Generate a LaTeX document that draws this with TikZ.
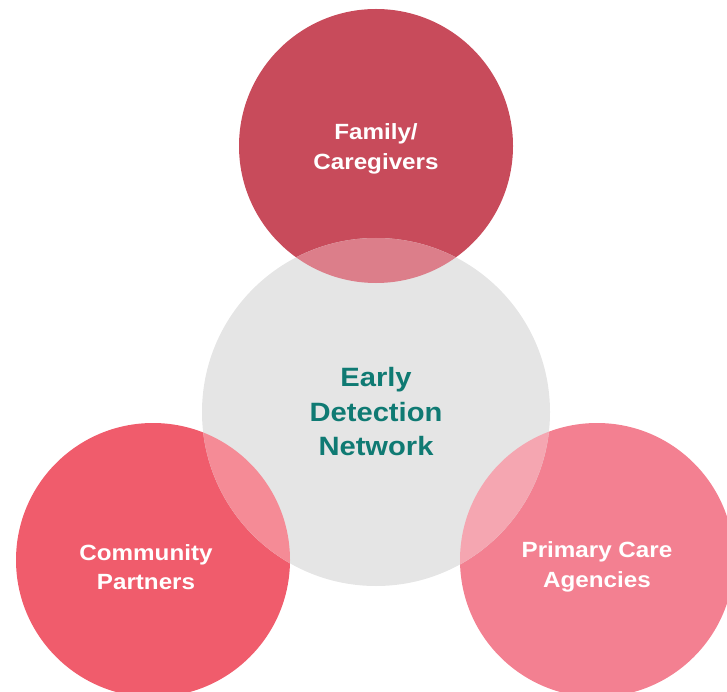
\documentclass[tikz,border=0pt]{standalone}
\usepackage{fontspec}
\setmainfont{Liberation Sans}[FakeStretch=1.1]
\definecolor{famc}{HTML}{C84B5B}
\definecolor{comc}{HTML}{F05C6C}
\definecolor{pric}{HTML}{F38091}
\definecolor{grayc}{HTML}{E5E5E5}
\definecolor{tealc}{HTML}{0F7A73}
\definecolor{famov}{HTML}{DC7E8A}
\definecolor{comov}{HTML}{F58B96}
\definecolor{priov}{HTML}{F5A6B1}
\tikzset{
  whitelabel/.style={text=white, font=\bfseries\fontsize{22}{29.5}\selectfont, align=center},
  teallabel/.style={text=tealc, font=\bfseries\fontsize{26.5}{34.5}\selectfont, align=center}
}
\begin{document}
\begin{tikzpicture}[x=1pt,y=-1pt]
\useasboundingbox (0,0) rectangle (727,692);
\begin{scope}
\clip (0,0) rectangle (727,692);
\fill[famc] (376,146) circle (137);
\fill[comc] (153,560) circle (137);
\fill[pric] (597,560) circle (137);
\fill[grayc] (376,412) circle (174);
\begin{scope}\clip (376,412) circle (174); \fill[famov] (376,146) circle (137); \end{scope}
\begin{scope}\clip (376,412) circle (174); \fill[comov] (153,560) circle (137); \end{scope}
\begin{scope}\clip (376,412) circle (174); \fill[priov] (597,560) circle (137); \end{scope}
\end{scope}
\node[whitelabel] (fam) at (376,149) {Family/\\Caregivers};
\node[teallabel] (edn) at (376,412) {Early\\Detection\\Network};
\node[whitelabel] (com) at (146,567) {Community\\Partners};
\node[whitelabel] (pri) at (597,567) {Primary Care\\Agencies};
\end{tikzpicture}
\end{document}
